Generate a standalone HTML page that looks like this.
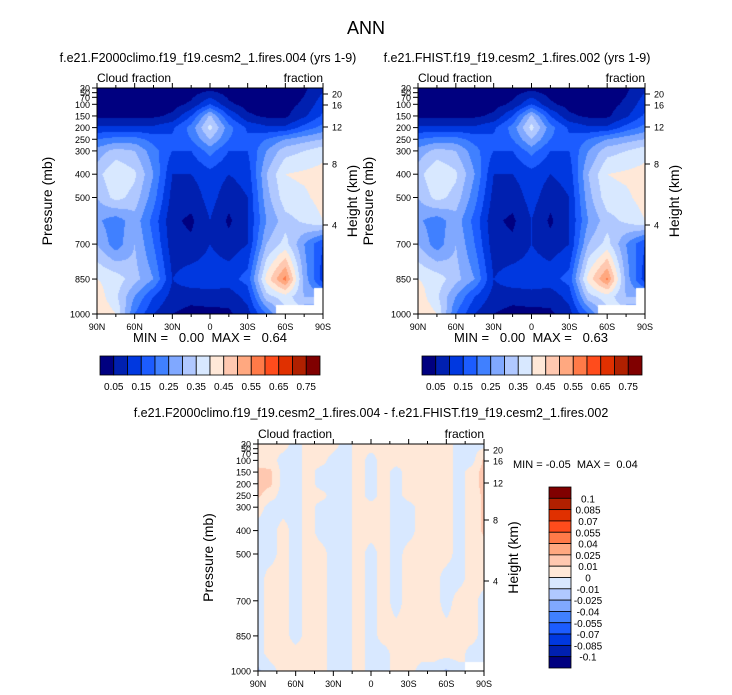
<!DOCTYPE html>
<html><head><meta charset="utf-8">
<style>
body{margin:0;background:#fff;}
#root{position:relative;width:732px;height:695px;background:#fff;font-family:"Liberation Sans",sans-serif;overflow:hidden;}
svg text{font-family:"Liberation Sans",sans-serif;white-space:pre;}
</style></head>
<body>
<div id="root">
<svg id="svg" width="732" height="695"></svg>
</div>
<script>
// ---- data ----
const levels = [30,100,150,200,250,300,400,500,600,700,850,925,1000];
const lats13 = [90,75,60,45,30,15,0,-15,-30,-45,-60,-75,-90];
const field1 = [
[0.02,0.02,0.02,0.02,0.02,0.02,0.03,0.02,0.02,0.02,0.02,0.04,0.09],
[0.03,0.03,0.03,0.03,0.03,0.06,0.15,0.06,0.03,0.03,0.03,0.06,0.13],
[0.04,0.04,0.04,0.04,0.06,0.15,0.31,0.15,0.06,0.04,0.04,0.09,0.16],
[0.11,0.11,0.11,0.11,0.14,0.22,0.37,0.22,0.14,0.11,0.11,0.17,0.22],
[0.2,0.22,0.22,0.18,0.16,0.2,0.3,0.2,0.16,0.2,0.25,0.28,0.3],
[0.27,0.32,0.3,0.22,0.15,0.15,0.22,0.15,0.15,0.25,0.33,0.35,0.38],
[0.33,0.4,0.36,0.25,0.1,0.1,0.13,0.1,0.12,0.3,0.4,0.41,0.42],
[0.3,0.37,0.33,0.22,0.08,0.07,0.12,0.07,0.1,0.28,0.38,0.39,0.42],
[0.26,0.22,0.28,0.18,0.06,0.04,0.1,0.04,0.1,0.25,0.33,0.36,0.4],
[0.3,0.22,0.3,0.2,0.07,0.06,0.1,0.07,0.1,0.3,0.37,0.25,0.15],
[0.4,0.38,0.32,0.25,0.1,0.13,0.13,0.13,0.17,0.42,0.57,0.28,0.12],
[0.43,0.36,0.25,0.15,0.08,0.07,0.08,0.07,0.12,0.33,0.38,0.3,null],
[0.45,0.4,0.2,0.1,0.05,0.03,0.03,0.04,0.08,0.2,null,null,null]];
const field2 = [
[0.02,0.02,0.02,0.02,0.02,0.02,0.03,0.02,0.02,0.02,0.02,0.04,0.09],
[0.03,0.03,0.03,0.03,0.03,0.06,0.15,0.06,0.03,0.03,0.03,0.06,0.13],
[0.04,0.04,0.04,0.04,0.06,0.15,0.31,0.15,0.06,0.04,0.04,0.09,0.16],
[0.11,0.11,0.11,0.11,0.14,0.22,0.37,0.22,0.14,0.11,0.11,0.17,0.22],
[0.2,0.22,0.22,0.18,0.16,0.2,0.3,0.2,0.16,0.2,0.25,0.28,0.3],
[0.27,0.32,0.3,0.22,0.15,0.15,0.22,0.15,0.15,0.25,0.33,0.35,0.38],
[0.33,0.4,0.36,0.25,0.1,0.1,0.13,0.1,0.12,0.3,0.4,0.41,0.42],
[0.3,0.37,0.33,0.22,0.08,0.07,0.12,0.07,0.1,0.28,0.38,0.39,0.42],
[0.26,0.22,0.28,0.18,0.06,0.04,0.1,0.04,0.1,0.25,0.33,0.36,0.4],
[0.3,0.22,0.3,0.2,0.07,0.06,0.1,0.07,0.1,0.3,0.37,0.25,0.15],
[0.4,0.38,0.32,0.25,0.1,0.13,0.13,0.13,0.17,0.42,0.56,0.28,0.12],
[0.43,0.36,0.25,0.15,0.08,0.07,0.08,0.07,0.12,0.33,0.38,0.3,null],
[0.45,0.4,0.2,0.1,0.05,0.03,0.03,0.04,0.08,0.2,null,null,null]];
const lats19 = [90,80,70,60,50,40,30,20,10,0,-10,-20,-30,-40,-50,-60,-70,-80,-90];
const fieldDiff = [
[0.004,0.004,0.004,-0.004,0.004,0.004,0.004,-0.004,0.004,0.004,0.004,0.004,0.004,0.004,0.004,0.004,-0.004,-0.004,-0.004],
[0.004,0.004,-0.004,-0.004,0.004,0.004,-0.004,-0.004,0.004,-0.004,0.004,0.004,0.004,0.004,0.004,0.004,-0.004,-0.004,0.012],
[0.014,0.012,-0.004,-0.004,0.004,-0.004,-0.004,-0.004,0.004,-0.004,0.004,-0.004,0.004,0.004,0.004,0.004,-0.004,0.004,0.014],
[0.014,0.012,-0.004,-0.004,0.004,-0.004,-0.004,-0.004,0.004,-0.004,0.004,-0.004,0.004,0.004,0.004,0.004,-0.004,0.004,0.014],
[0.012,0.004,-0.004,-0.004,0.004,0.004,-0.004,-0.004,0.004,-0.004,0.004,-0.004,0.004,0.004,0.004,0.004,-0.004,0.004,0.012],
[0.004,-0.004,-0.004,-0.004,0.004,-0.004,-0.004,-0.004,0.004,0.004,0.004,-0.004,-0.004,0.004,0.004,0.004,-0.004,0.004,0.012],
[-0.004,-0.004,0.004,-0.004,0.004,-0.004,-0.004,-0.004,0.004,0.004,0.004,-0.004,-0.004,0.004,0.004,0.004,-0.004,0.004,0.012],
[-0.004,-0.004,0.004,-0.004,0.004,0.004,-0.004,-0.004,0.004,-0.004,0.004,-0.004,0.004,0.004,0.004,0.004,-0.004,0.004,0.004],
[-0.004,0.004,0.004,-0.004,0.004,0.004,-0.004,-0.004,0.004,-0.004,0.004,-0.004,0.004,0.004,0.004,-0.004,-0.004,0.004,0.004],
[-0.004,0.004,0.004,-0.004,0.004,0.004,-0.004,-0.004,0.004,-0.004,0.004,-0.004,0.004,0.004,0.004,-0.004,0.004,0.004,-0.004],
[-0.004,0.004,0.004,-0.004,0.004,0.004,-0.004,-0.004,0.004,-0.004,0.004,0.004,0.004,0.004,0.004,0.004,0.004,0.004,-0.004],
[-0.004,0.004,0.004,0.004,0.004,0.004,-0.004,-0.004,0.004,-0.004,-0.004,0.004,0.004,0.004,0.004,0.004,0.004,-0.004,-0.004],
[-0.012,-0.004,0.004,0.004,0.004,0.004,-0.004,-0.004,0.004,-0.004,-0.004,0.004,0.004,-0.004,-0.004,-0.012,-0.004,null,null]];
const bounds1 = [0.05,0.1,0.15,0.2,0.25,0.3,0.35,0.4,0.45,0.5,0.55,0.6,0.65,0.7,0.75];
const boundsDiff = [-0.1,-0.085,-0.07,-0.055,-0.04,-0.025,-0.01,0,0.01,0.025,0.04,0.055,0.07,0.085,0.1];
const cbLabels1 = ["0.05","0.15","0.25","0.35","0.45","0.55","0.65","0.75"];
const cbLabelsDiff = ["0.1","0.085","0.07","0.055","0.04","0.025","0.01","0","-0.01","-0.025","-0.04","-0.055","-0.07","-0.085","-0.1"];
const pTicks = [30,50,70,100,150,200,250,300,400,500,700,850,1000];
const hTicks = [[20,6],[16,17],[12,39],[8,76],[4,137]];
const latTicks = ["90N","60N","30N","0","30S","60S","90S"];
const colors = ["#000080","#0020b0","#0038e0","#1c5cff","#4080ff","#80a8ff","#b0c8ff","#d8e8ff","#ffe8d8","#ffc8b0","#ffa880","#ff7a48","#ff4c1c","#e03000","#b02000","#800000"];

const NS="http://www.w3.org/2000/svg";
const svg=document.getElementById('svg');
function el(tag,attrs,parent){const e=document.createElementNS(NS,tag);for(const k in attrs)e.setAttribute(k,attrs[k]);(parent||svg).appendChild(e);return e;}
function txt(x,y,s,size,anchor,parent,rot){const t=el('text',{x:x,y:y,'font-size':size,'text-anchor':anchor||'middle',fill:'#000'},parent);if(rot)t.setAttribute('transform','rotate(-90 '+x+' '+y+')');t.textContent=s;return t;}

function colorFor(v,b){let i=0;while(i<b.length&&v>=b[i])i++;return colors[i];}

function drawPanel(L,T,W,H,lats,field,bounds,name){
  const g=el('g',{});
  
  
  const yOf=p=>T+(p-30)/970*H;
  const fo=el('foreignObject',{x:L,y:T,width:W,height:H},g);
  const cv=document.createElement('canvas');cv.width=W;cv.height=H;cv.style.display='block';fo.appendChild(cv);
  const ctx=cv.getContext('2d');
  const img=ctx.createImageData(W,H);
  const nl=lats.length;
  for(let py=0;py<H;py++){
    const p=30+(py+0.5)/H*970;
    let j=0;while(j<levels.length-2&&p>levels[j+1])j++;
    const fy=(p-levels[j])/(levels[j+1]-levels[j]);
    for(let px=0;px<W;px++){
      const lat=90-(px+0.5)/W*180;
      const fi=(90-lat)/180*(nl-1);let i=Math.min(Math.floor(fi),nl-2);const fx=fi-i;
      const a=field[j][i],b=field[j][i+1],c=field[j+1][i],d=field[j+1][i+1];
      const k=(py*W+px)*4;
      if(a===null||b===null||c===null||d===null){
        const near=field[fy<0.5?j:j+1][fx<0.5?i:i+1];
        if(near===null){img.data[k]=255;img.data[k+1]=255;img.data[k+2]=255;img.data[k+3]=255;continue;}
      }
      const vals=[a,b,c,d].map(v=>v===null?(a??b??c??d):v);
      const v=(vals[0]*(1-fx)+vals[1]*fx)*(1-fy)+(vals[2]*(1-fx)+vals[3]*fx)*fy;
      const col=colorFor(v,bounds);
      img.data[k]=parseInt(col.substr(1,2),16);img.data[k+1]=parseInt(col.substr(3,2),16);img.data[k+2]=parseInt(col.substr(5,2),16);img.data[k+3]=255;
    }
  }
  ctx.putImageData(img,0,0);
  el('rect',{x:L,y:T,width:W,height:H,fill:'none',stroke:'#000','stroke-width':1},g);
  pTicks.forEach(p=>{const y=yOf(p);el('line',{x1:L-5,y1:y,x2:L,y2:y,stroke:'#000'},g);txt(L-7,y+3.5,String(p),9,'end',g);});
  hTicks.forEach(h=>{const y=T+h[1];el('line',{x1:L+W,y1:y,x2:L+W+5,y2:y,stroke:'#000'},g);txt(L+W+9,y+3.5,String(h[0]),9,'start',g);});
  for(let k=0;k<=12;k++){const x=L+k*W/12;const big=k%2===0;
    el('line',{x1:x,y1:T+H,x2:x,y2:T+H+(big?5:3),stroke:'#000'},g);
    el('line',{x1:x,y1:T,x2:x,y2:T-(big?5:3),stroke:'#000'},g);
    if(big)txt(x,T+H+16,latTicks[k/2],9,'middle',g);}
  txt(L,T-6,'Cloud fraction',12,'start',g);
  txt(L+W,T-6,'fraction',12,'end',g);
  txt(L-45,T+H/2,'Pressure (mb)',14,'middle',g,true);
  txt(L+W+34,T+H/2,'Height (km)',14,'middle',g,true);
}

txt(366,34,'ANN',18,'middle');
txt(208,62,'f.e21.F2000climo.f19_f19.cesm2_1.fires.004 (yrs 1-9)',12.5,'middle');
txt(517,62,'f.e21.FHIST.f19_f19.cesm2_1.fires.002 (yrs 1-9)',12.5,'middle');
txt(371,417,'f.e21.F2000climo.f19_f19.cesm2_1.fires.004 - f.e21.FHIST.f19_f19.cesm2_1.fires.002',12.5,'middle');

drawPanel(97,88,226,226,lats13,field1,bounds1,'panel-test');
drawPanel(418,88,227,226,lats13,field2,bounds1,'panel-control');
drawPanel(258,444,226,227,lats19,fieldDiff,boundsDiff,'panel-difference');

txt(210,342,'MIN =   0.00  MAX =   0.64',13,'middle');
txt(531,342,'MIN =   0.00  MAX =   0.63',13,'middle');
txt(513,468,'MIN = -0.05  MAX =  0.04',11,'start');

function hBar(L,name){
  const g=el('g',{});
  const w=220/16;
  colors.forEach((c,i)=>el('rect',{x:L+i*w,y:356,width:w,height:19,fill:c,stroke:'#000','stroke-width':0.8},g));
  cbLabels1.forEach((s,i)=>txt(L+(2*i+1)*w,390,s,10,'middle',g));
}
hBar(100,'colorbar-top-left');hBar(422,'colorbar-top-right');
(function(){
  const g=el('g',{});
  const h=181/16;
  colors.slice().reverse().forEach((c,i)=>el('rect',{x:549,y:487+i*h,width:22,height:h,fill:c,stroke:'#000','stroke-width':0.8},g));
  cbLabelsDiff.forEach((s,i)=>txt(588,487+(i+1)*h+4,s,10,'middle',g));
})();
</script>
</body></html>
